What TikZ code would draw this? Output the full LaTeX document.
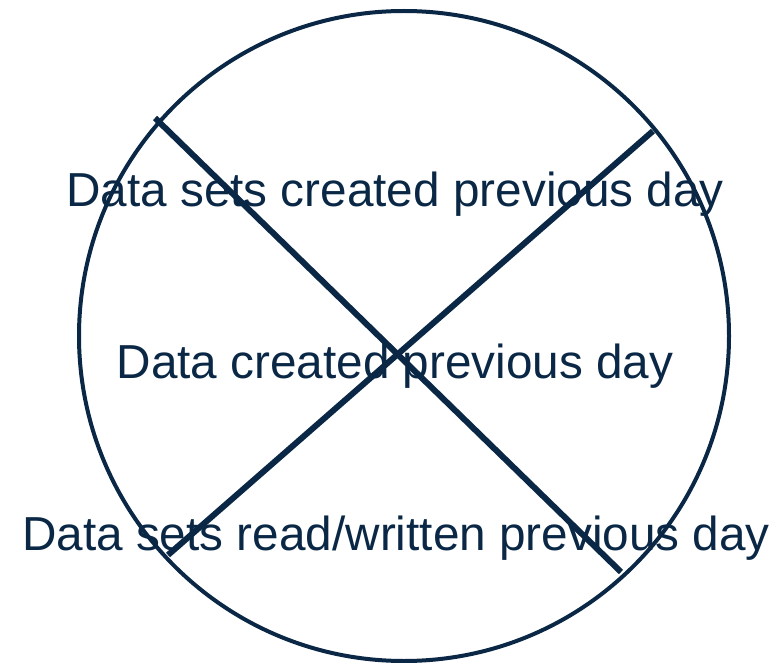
\documentclass[tikz,border=0pt]{standalone}
\usepackage{fontspec}
\setmainfont{Liberation Sans}
\usepackage{xcolor}
\definecolor{navy}{RGB}{10,40,70}
\begin{document}
\begin{tikzpicture}[x=1pt,y=-1pt,
  lbl/.style={text=navy,font=\fontsize{47.7}{52}\selectfont,anchor=base,inner sep=0pt},
  cross/.style={draw=navy,line width=6pt}]
\useasboundingbox (0,0) rectangle (782,663);
\draw[navy,line width=4pt] (404,336) circle (325);
\node[lbl] (top) at (395,207) {Data sets created previous day};
\node[lbl] (mid) at (395,378) {Data created previous day};
\node[lbl] (bot) at (396,550) {Data sets read/written previous day};
\coordinate (a) at (155,118);
\coordinate (b) at (621,572);
\coordinate (c) at (653,131);
\coordinate (d) at (168,555);
\draw[cross] (a) -- (b);
\draw[cross] (c) -- (d);
\end{tikzpicture}
\end{document}
